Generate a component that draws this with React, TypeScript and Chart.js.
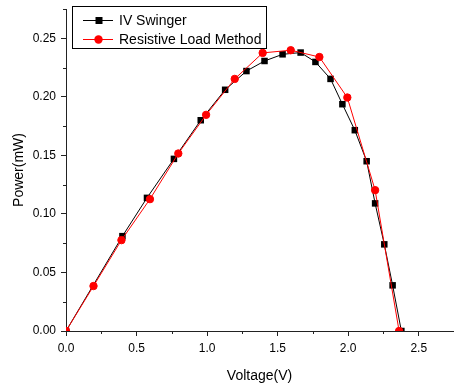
import React, { useEffect, useRef } from "react";
import { Chart, registerables } from "chart.js";

Chart.register(...registerables);

const ivVoltage = [0, 0.4, 0.574, 0.765, 0.955, 1.128, 1.279, 1.407, 1.535, 1.663, 1.768, 1.875, 1.959, 2.047, 2.131, 2.191, 2.256, 2.315, 2.377];
const ivPower = [0, 0.081, 0.1137, 0.147, 0.18, 0.206, 0.222, 0.2306, 0.2363, 0.2378, 0.2298, 0.2153, 0.1937, 0.1715, 0.145, 0.109, 0.074, 0.039, 0];

const rlVoltage = [0, 0.195, 0.393, 0.595, 0.796, 0.993, 1.196, 1.394, 1.593, 1.796, 1.994, 2.191, 2.361];
const rlPower = [0, 0.0384, 0.0776, 0.1126, 0.1516, 0.1846, 0.2153, 0.2375, 0.2398, 0.234, 0.1994, 0.1203, 0];

const seriesNames = ["IV Swinger", "Resistive Load Method"];
const xTitle = "Voltage(V)";
const yTitle = "Power(mW)";

const FONT = "'Liberation Sans', Arial, sans-serif";

const minorTicks = {
  id: "minorTicks",
  afterDraw(chart: any) {
    const ctx = chart.ctx;
    const xs = chart.scales.x;
    const ys = chart.scales.y;
    const area = chart.chartArea;
    ctx.save();
    ctx.strokeStyle = "#222";
    ctx.lineWidth = 1;
    ctx.beginPath();
    for (let v = 0.25; v < 2.75; v += 0.5) {
      const px = Math.round(xs.getPixelForValue(v)) + 0.5;
      ctx.moveTo(px, area.bottom);
      ctx.lineTo(px, area.bottom + 3);
    }
    for (let v = 0.025; v <= 0.2751; v += 0.05) {
      const py = Math.round(ys.getPixelForValue(v)) + 0.5;
      ctx.moveTo(area.left, py);
      ctx.lineTo(area.left - 3, py);
    }
    ctx.stroke();
    ctx.restore();
  },
};

const customLegend = {
  id: "customLegend",
  afterDraw(chart: any) {
    const ctx = chart.ctx;
    ctx.save();
    ctx.strokeStyle = "#000";
    ctx.lineWidth = 1;
    ctx.strokeRect(72.5, 6.5, 194, 42);
    const rows = [
      { y: 20, color: "#000", style: "rect", name: seriesNames[0] },
      { y: 39, color: "#ff0000", style: "circle", name: seriesNames[1] },
    ];
    rows.forEach((r) => {
      ctx.strokeStyle = r.color;
      ctx.fillStyle = r.color;
      ctx.lineWidth = 1;
      ctx.beginPath();
      ctx.moveTo(83, r.y + 0.5);
      ctx.lineTo(113, r.y + 0.5);
      ctx.stroke();
      ctx.beginPath();
      if (r.style === "rect") {
        ctx.rect(95.5, r.y - 3, 7, 7);
      } else {
        ctx.arc(98.5, r.y + 0.5, 4.2, 0, Math.PI * 2);
      }
      ctx.fill();
      ctx.fillStyle = "#000";
      ctx.font = `14px ${FONT}`;
      ctx.textBaseline = "middle";
      ctx.textAlign = "left";
      ctx.fillText(r.name, 119, r.y + 1);
    });
    ctx.restore();
  },
};

export default function App() {
  const ref = useRef<HTMLCanvasElement | null>(null);
  useEffect(() => {
    document.body.style.margin = "0";
    const canvas = ref.current;
    if (!canvas) return;
    const chart = new Chart(canvas, {
      type: "line",
      data: {
        datasets: [
          {
            label: seriesNames[1],
            data: rlVoltage.map((v, i) => ({ x: v, y: rlPower[i] })),
            borderColor: "#ff0000",
            backgroundColor: "#ff0000",
            borderWidth: 1,
            pointStyle: "circle",
            pointRadius: 3.7,
            pointBorderWidth: 1,
            tension: 0,
            order: 0,
          },
          {
            label: seriesNames[0],
            data: ivVoltage.map((v, i) => ({ x: v, y: ivPower[i] })),
            borderColor: "#000000",
            backgroundColor: "#000000",
            borderWidth: 1,
            pointStyle: "rect",
            pointRadius: 4.6,
            pointBorderWidth: 0,
            tension: 0,
            order: 1,
          },
        ],
      },
      options: {
        responsive: false,
        animation: false,
        layout: { padding: { top: 9, right: 0, left: 0, bottom: 0 } },
        plugins: {
          legend: { display: false },
          tooltip: { enabled: false },
        },
        scales: {
          x: {
            type: "linear",
            min: 0,
            max: 2.743,
            afterFit: (s: any) => {
              s.height = 54;
              s.paddingRight = 0;
              s.paddingLeft = 0;
            },
            border: { display: true, color: "#222", width: 1 },
            grid: { display: true, drawOnChartArea: false, drawTicks: true, tickLength: 5, color: "#222" },
            ticks: {
              stepSize: 0.5,
              includeBounds: false,
              padding: 5,
              color: "#000",
              font: { family: FONT, size: 12 },
              maxRotation: 0,
              callback: (v: any) => Number(v).toFixed(1),
            },
            title: {
              display: true,
              text: xTitle,
              color: "#000",
              font: { family: FONT, size: 14 },
              padding: { top: 7, bottom: 0 },
            },
          },
          y: {
            type: "linear",
            min: 0,
            max: 0.275,
            afterFit: (s: any) => {
              s.width = 66;
              s.paddingTop = 0;
              s.paddingBottom = 0;
            },
            border: { display: true, color: "#222", width: 1 },
            grid: { display: true, drawOnChartArea: false, drawTicks: true, tickLength: 5, color: "#222" },
            ticks: {
              stepSize: 0.05,
              includeBounds: false,
              padding: 5,
              color: "#000",
              font: { family: FONT, size: 12 },
              callback: (v: any) => Number(v).toFixed(2),
            },
            title: {
              display: true,
              text: yTitle,
              color: "#000",
              font: { family: FONT, size: 14 },
              padding: { top: 11, bottom: 0 },
            },
          },
        },
      },
      plugins: [minorTicks, customLegend],
    });
    return () => chart.destroy();
  }, []);
  return (
    <div style={{ width: 458, height: 385, background: "#fff" }}>
      <canvas ref={ref} width={458} height={385} style={{ display: "block" }} />
    </div>
  );
}
